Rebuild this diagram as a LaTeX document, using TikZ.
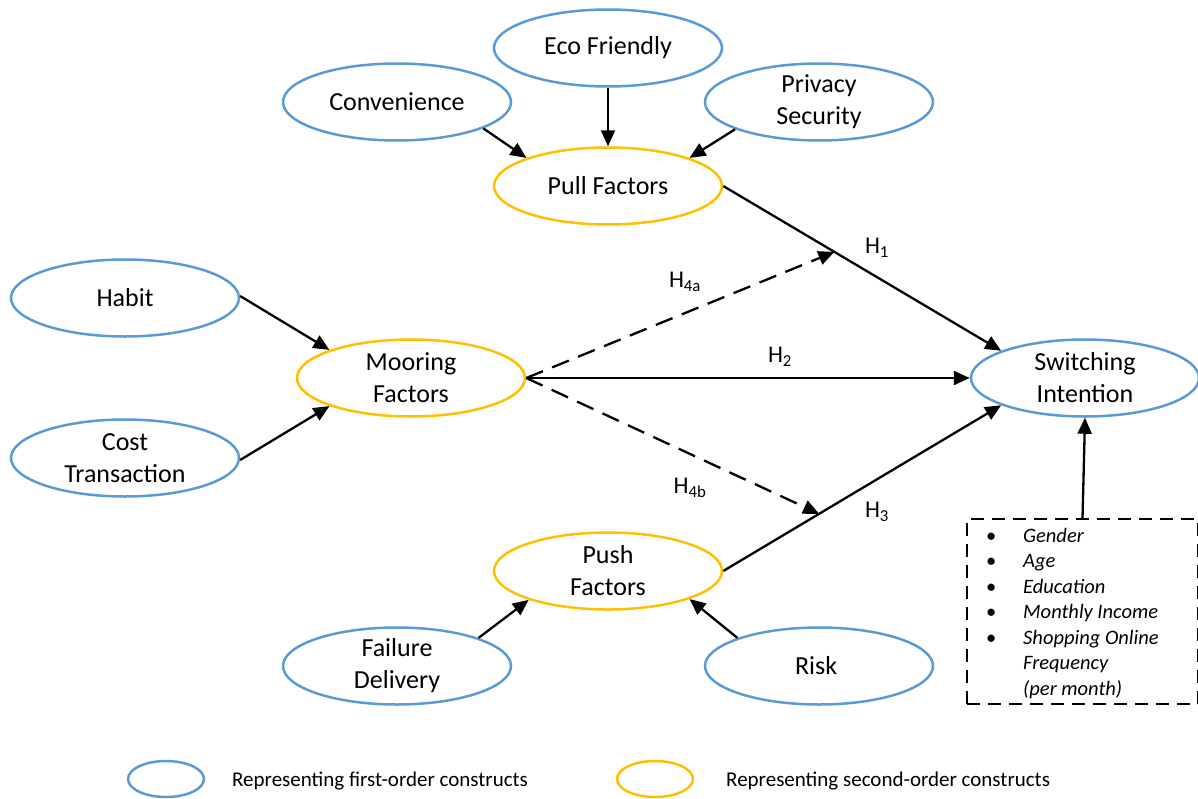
\documentclass[tikz,border=0pt]{standalone}
\usepackage{fontspec}
\setmainfont{Carlito}
\usetikzlibrary{shapes.geometric,arrows.meta}
\definecolor{firstblue}{HTML}{5B9BD5}
\definecolor{secondgold}{HTML}{FFC000}

\begin{document}
\begin{tikzpicture}[
        x=1pt, y=-1pt,
        first/.style={draw=firstblue, line width=2.5pt, ellipse, minimum width=228pt, minimum height=77pt, inner sep=0pt, align=center, font=\fontsize{26}{32}\selectfont},
        second/.style={first, draw=secondgold},
        link/.style={-{Triangle[length=16pt,width=14pt]}, line width=2.3pt},
        hyp/.style={link, dash pattern=on 18pt off 10pt},
        hlabel/.style={inner sep=0pt, font=\fontsize{24}{28}\selectfont},
        legend/.style={ellipse, line width=2.5pt, minimum width=76pt, minimum height=36pt, inner sep=0pt}
    ]
        \useasboundingbox (0,0) rectangle (1198,798);

        % First-order constructs
        \foreach \name/\pos/\txt in {
            eco/{(608,48)}/Eco Friendly,
            conv/{(397,102)}/Convenience,
            priv/{(819,102)}/Privacy\\Security,
            habit/{(125,298)}/Habit,
            cost/{(125,458)}/Cost\\Transaction,
            fail/{(397,666)}/Failure\\Delivery,
            risk/{(819,666)}/Risk
        } {
            \node[first] (\name) at \pos {\txt};
        }

        % Second-order constructs
        \node[second] (pull) at (608,186) {Pull Factors};
        \node[second] (moor) at (411,378) {Mooring\\Factors};
        \node[second] (push) at (608,571) {Push\\Factors};
        \node[first] (switch) at (1085,378) {Switching\\Intention};

        % Control variables
        \node[draw, line width=1.6pt, dash pattern=on 13pt off 8pt, minimum width=231pt, minimum height=185pt, inner sep=0pt] (ctrl) at (1082.5,611.5) {};
        \node[anchor=north west, inner sep=0pt, align=left, font=\fontsize{20.5}{25.5}\selectfont] (ctrllist) at (986,528) {%
            \makebox[37pt][l]{\textbullet}\textit{Gender}\\
            \makebox[37pt][l]{\textbullet}\textit{Age}\\
            \makebox[37pt][l]{\textbullet}\textit{Education}\\
            \makebox[37pt][l]{\textbullet}\textit{Monthly Income}\\
            \makebox[37pt][l]{\textbullet}\textit{Shopping Online}\\
            \hspace*{37pt}\textit{Frequency}\\
            \hspace*{37pt}\textit{(per month)}};

        % Indicators to constructs
        \draw[link] (conv.-17) -- (pull.161);
        \draw[link] (eco.south) -- (pull.north);
        \draw[link] (priv.198) -- (pull.19);
        \draw[link] (habit.1) -- (moor.161);
        \draw[link] (cost.-1) -- (moor.199);
        \draw[link] (fail.19) -- (push.200);
        \draw[link] (risk.161) -- (push.-19);

        % Hypotheses
        \draw[link] (pull.east) -- coordinate[pos=0.4] (h1mid) (switch.162);
        \draw[link] (push.east) -- coordinate[pos=0.345] (h3mid) (switch.198);
        \draw[link] (moor.east) -- (switch.west);
        \draw[hyp] (moor.east) -- (h1mid);
        \draw[hyp] (moor.east) -- (h3mid);

        \node[hlabel] (h1) at (877,248) {H\textsubscript{1}};
        \node[hlabel] (h2) at (780,357) {H\textsubscript{2}};
        \node[hlabel] (h3) at (877,512) {H\textsubscript{3}};
        \node[hlabel] (h4a) at (685,282) {H\textsubscript{4a}};
        \node[hlabel] (h4b) at (690,488) {H\textsubscript{4b}};

        \draw[link] (ctrl.north) -- (switch.south);

        % Legend
        \node[legend, draw=firstblue] (leg1) at (166,779) {};
        \node[legend, draw=secondgold] (leg2) at (655,779) {};
        \node[anchor=west, inner sep=0pt, font=\fontsize{21}{24}\selectfont] (legtxt1) at (232,781) {Representing first-order constructs};
        \node[anchor=west, inner sep=0pt, font=\fontsize{21}{24}\selectfont] (legtxt2) at (726,781) {Representing second-order constructs};
    \end{tikzpicture}
\end{document}
